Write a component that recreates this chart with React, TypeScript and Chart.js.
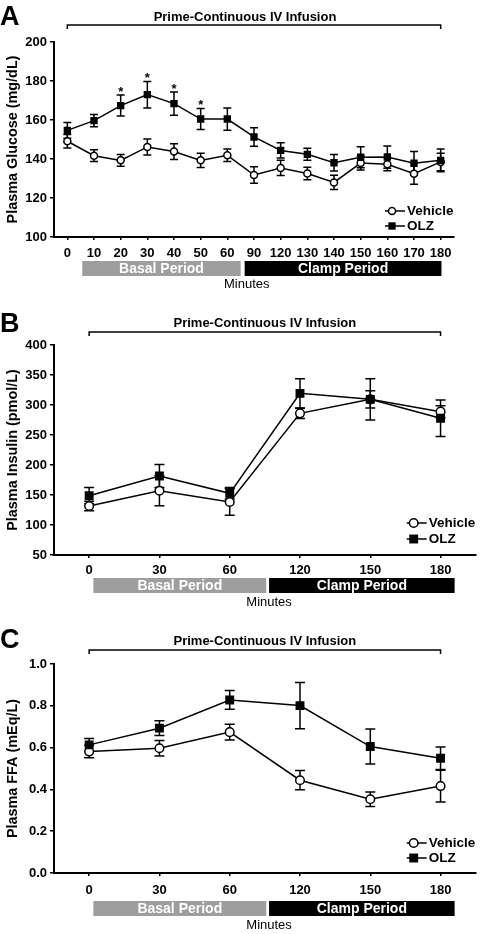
import React, { useEffect, useRef } from 'react';
import { Chart, registerables } from 'chart.js';

Chart.register(...registerables);

const FONT = '"Liberation Sans", Arial, Helvetica, sans-serif';

// ---------- Data ----------
const glucoseMinutes = ['0', '10', '20', '30', '40', '50', '60', '90', '120', '130', '140', '150', '160', '170', '180'];
const glucoseVehicle = [149.1, 141.7, 139.3, 146.2, 143.8, 139.3, 141.9, 131.8, 135.4, 132.6, 128.0, 137.9, 137.3, 132.5, 138.5];
const glucoseVehicleSem = [3.5, 3.0, 3.0, 4.1, 4.0, 3.6, 3.2, 4.2, 3.9, 3.2, 3.7, 3.6, 3.3, 5.5, 4.5];
const glucoseOlz = [154.7, 159.7, 167.4, 173.0, 168.4, 160.5, 160.5, 151.3, 144.4, 142.4, 138.1, 140.9, 141.0, 137.8, 139.3];
const glucoseOlzSem = [4.0, 3.1, 5.4, 6.8, 5.9, 5.4, 5.7, 4.7, 3.9, 3.1, 4.2, 5.4, 5.7, 6.1, 5.8];
const glucoseSignificant = ['20', '30', '40', '50'];

const clampMinutes = ['0', '30', '60', '120', '150', '180'];
const insulinVehicle = [131.7, 157.2, 138.3, 286.1, 309.4, 288.9];
const insulinVehicleSem = [8.0, 25.0, 22.0, 8.5, 14.5, 10.0];
const insulinOlz = [148.9, 181.7, 152.8, 319.4, 309.4, 277.8];
const insulinOlzSem = [13.5, 19.0, 9.5, 24.5, 34.5, 30.5];

const ffaVehicle = [0.581, 0.597, 0.674, 0.444, 0.353, 0.416];
const ffaVehicleSem = [0.030, 0.037, 0.038, 0.046, 0.035, 0.076];
const ffaOlz = [0.613, 0.693, 0.828, 0.801, 0.605, 0.549];
const ffaOlzSem = [0.030, 0.035, 0.045, 0.111, 0.084, 0.054];

const seriesNames = ['Vehicle', 'OLZ'];
const periodNames = ['Basal Period', 'Clamp Period'];
const bracketTitle = 'Prime-Continuous IV Infusion';
const xTitle = 'Minutes';

// ---------- Panel layout specs ----------
type Spec = {
  letter: string;
  yTitle: string;
  labels: string[];
  vehicle: number[];
  vehicleSem: number[];
  olz: number[];
  olzSem: number[];
  stars: string[];
  yMin: number;
  yMax: number;
  yStep: number;
  decimals: number;
  canvasTop: number;
  height: number;
  padTop: number;
  padRight: number;
  xAxisH: number;
  xTickPad: number;
  bracketY: number;
  bracketTextY: number;
  bracketTextDx: number;
  letterBase: number;
  periodSpans: number[][];
  periodTop: number;
  periodBottom: number;
  minutesAt: number;
  minutesY: number;
  legendRows: number[];
  circleR: number;
  rectR: number;
  capW: number;
};

const specs: Spec[] = [
  {
    letter: 'A', yTitle: 'Plasma Glucose (mg/dL)', labels: glucoseMinutes,
    vehicle: glucoseVehicle, vehicleSem: glucoseVehicleSem, olz: glucoseOlz, olzSem: glucoseOlzSem,
    stars: glucoseSignificant, yMin: 100, yMax: 200, yStep: 20, decimals: 0,
    canvasTop: 0, height: 300, padTop: 42, padRight: 28, xAxisH: 63, xTickPad: 6,
    bracketY: 25, bracketTextY: 17, bracketTextDx: -9, letterBase: 25,
    periodSpans: [[0.56, 6.5], [6.65, 14.03]], periodTop: 24, periodBottom: 39,
    minutesAt: 6.73, minutesY: 47, legendRows: [-26, -11],
    circleR: 3.5, rectR: 5.2, capW: 8,
  },
  {
    letter: 'B', yTitle: 'Plasma Insulin (pmol/L)', labels: clampMinutes,
    vehicle: insulinVehicle, vehicleSem: insulinVehicleSem, olz: insulinOlz, olzSem: insulinOlzSem,
    stars: [], yMin: 50, yMax: 400, yStep: 50, decimals: 0,
    canvasTop: 300, height: 315, padTop: 45, padRight: 2, xAxisH: 60, xTickPad: 5,
    bracketY: 32, bracketTextY: 23, bracketTextDx: 0, letterBase: 32,
    periodSpans: [[0.06, 2.52], [2.56, 5.2]], periodTop: 23, periodBottom: 38,
    minutesAt: 2.56, minutesY: 47, legendRows: [-32, -16],
    circleR: 4.3, rectR: 6.3, capW: 10,
  },
  {
    letter: 'C', yTitle: 'Plasma FFA (mEq/L)', labels: clampMinutes,
    vehicle: ffaVehicle, vehicleSem: ffaVehicleSem, olz: ffaOlz, olzSem: ffaOlzSem,
    stars: [], yMin: 0, yMax: 1.0, yStep: 0.2, decimals: 1,
    canvasTop: 615, height: 319, padTop: 49, padRight: 2, xAxisH: 61, xTickPad: 7,
    bracketY: 35, bracketTextY: 26, bracketTextDx: 0, letterBase: 33,
    periodSpans: [[0.06, 2.52], [2.56, 5.2]], periodTop: 28, periodBottom: 43,
    minutesAt: 2.56, minutesY: 52, legendRows: [-30, -15],
    circleR: 4.3, rectR: 6.3, capW: 10,
  },
];

const periodColors = ['#9e9e9e', '#000000'];

function drawMarker(ctx: CanvasRenderingContext2D, kind: string, x: number, y: number, s: Spec) {
  ctx.save();
  ctx.lineWidth = 1.5;
  ctx.strokeStyle = '#000';
  if (kind === 'circle') {
    ctx.fillStyle = '#fff';
    ctx.beginPath();
    ctx.arc(x, y, s.circleR, 0, Math.PI * 2);
    ctx.fill();
    ctx.stroke();
  } else {
    const h = s.rectR * Math.SQRT1_2;
    ctx.fillStyle = '#000';
    ctx.fillRect(x - h, y - h, 2 * h, 2 * h);
  }
  ctx.restore();
}

function decor(s: Spec) {
  return {
    id: 'decor' + s.letter,
    beforeDatasetsDraw(chart: any) {
      const { ctx } = chart;
      const x = chart.scales.x;
      const y = chart.scales.y;
      ctx.save();
      ctx.strokeStyle = '#000';
      ctx.lineWidth = 1.5;
      const groups: [number[], number[]][] = [[s.vehicle, s.vehicleSem], [s.olz, s.olzSem]];
      groups.forEach(([m, e]) => {
        m.forEach((v, i) => {
          const px = x.getPixelForValue(i);
          const t = y.getPixelForValue(v + e[i]);
          const b = y.getPixelForValue(v - e[i]);
          const hw = s.capW / 2;
          ctx.beginPath();
          ctx.moveTo(px, t);
          ctx.lineTo(px, b);
          ctx.moveTo(px - hw, t);
          ctx.lineTo(px + hw, t);
          ctx.moveTo(px - hw, b);
          ctx.lineTo(px + hw, b);
          ctx.stroke();
        });
      });
      ctx.restore();
    },
    afterDraw(chart: any) {
      const { ctx, chartArea } = chart;
      const x = chart.scales.x;
      const y = chart.scales.y;
      const n = s.labels.length;
      ctx.save();
      // panel letter
      ctx.fillStyle = '#000';
      ctx.font = `bold 27px ${FONT}`;
      ctx.textAlign = 'left';
      ctx.textBaseline = 'alphabetic';
      ctx.fillText(s.letter, 0, s.letterBase);

      // bracket
      const bx0 = x.getPixelForValue(0);
      const bx1 = x.getPixelForValue(n - 1);
      ctx.strokeStyle = '#000';
      ctx.lineWidth = 1.5;
      ctx.beginPath();
      ctx.moveTo(bx0, s.bracketY + 4);
      ctx.lineTo(bx0, s.bracketY);
      ctx.lineTo(bx1, s.bracketY);
      ctx.lineTo(bx1, s.bracketY + 4);
      ctx.stroke();
      ctx.font = `bold 13px ${FONT}`;
      ctx.textAlign = 'center';
      ctx.textBaseline = 'middle';
      ctx.fillText(bracketTitle, (bx0 + bx1) / 2 + s.bracketTextDx, s.bracketTextY + 0.5);

      // asterisks
      s.stars.forEach((lab) => {
        const i = s.labels.indexOf(lab);
        if (i < 0) return;
        const px = x.getPixelForValue(i);
        const top = y.getPixelForValue(s.olz[i] + s.olzSem[i]);
        ctx.font = `bold 13px ${FONT}`;
        ctx.textAlign = 'center';
        ctx.textBaseline = 'alphabetic';
        ctx.fillText('*', px, top + 1);
      });

      // period bars
      const bottom = chartArea.bottom;
      s.periodSpans.forEach((sp, k) => {
        const p0 = x.getPixelForValue(sp[0]);
        const p1 = x.getPixelForValue(sp[1]);
        ctx.fillStyle = periodColors[k];
        ctx.fillRect(p0, bottom + s.periodTop, p1 - p0, s.periodBottom - s.periodTop);
        ctx.fillStyle = '#fff';
        ctx.font = `bold 14px ${FONT}`;
        ctx.textAlign = 'center';
        ctx.textBaseline = 'middle';
        ctx.fillText(periodNames[k], (p0 + p1) / 2, bottom + (s.periodTop + s.periodBottom) / 2 + 0.5);
      });

      // x title
      ctx.fillStyle = '#000';
      ctx.font = `13px ${FONT}`;
      ctx.textAlign = 'center';
      ctx.textBaseline = 'middle';
      ctx.fillText(xTitle, x.getPixelForValue(s.minutesAt), bottom + s.minutesY);

      // legend
      const textX = chartArea.right - 47;
      const kinds = ['circle', 'rect'];
      seriesNames.forEach((name, k) => {
        const ly = bottom + s.legendRows[k];
        ctx.strokeStyle = '#000';
        ctx.lineWidth = 1.5;
        ctx.beginPath();
        ctx.moveTo(textX - 22, ly);
        ctx.lineTo(textX - 2, ly);
        ctx.stroke();
        drawMarker(ctx, kinds[k], textX - 15, ly, s);
        ctx.fillStyle = '#000';
        ctx.font = `bold 13.5px ${FONT}`;
        ctx.textAlign = 'left';
        ctx.textBaseline = 'middle';
        ctx.fillText(name, textX, ly);
      });
      ctx.restore();
    },
  };
}

function Panel({ spec }: { spec: Spec }) {
  const ref = useRef<HTMLCanvasElement | null>(null);
  useEffect(() => {
    if (!ref.current) return;
    const s = spec;
    const tickFont = { family: FONT, size: 13, weight: 'bold' as const };
    const titleFont = { family: FONT, size: 14.4, weight: 'bold' as const };
    const chart = new Chart(ref.current, {
      type: 'line',
      data: {
        labels: s.labels,
        datasets: [
          {
            label: seriesNames[0],
            data: s.vehicle,
            borderColor: '#000',
            borderWidth: 1.5,
            backgroundColor: '#fff',
            pointStyle: 'circle',
            pointRadius: s.circleR,
            pointBorderWidth: 1.5,
            pointBackgroundColor: '#fff',
            pointBorderColor: '#000',
            tension: 0,
            fill: false,
            order: 1,
          },
          {
            label: seriesNames[1],
            data: s.olz,
            borderColor: '#000',
            borderWidth: 1.5,
            backgroundColor: '#000',
            pointStyle: 'rect',
            pointRadius: s.rectR,
            pointBorderWidth: 0,
            pointBackgroundColor: '#000',
            pointBorderColor: '#000',
            tension: 0,
            fill: false,
            order: 0,
          },
        ],
      },
      options: {
        animation: false,
        responsive: false,
        maintainAspectRatio: false,
        devicePixelRatio: 1,
        events: [],
        layout: { padding: { left: 0, top: s.padTop, right: s.padRight, bottom: 0 } },
        plugins: {
          legend: { display: false },
          tooltip: { enabled: false },
          title: { display: false },
        },
        scales: {
          x: {
            type: 'category',
            offset: true,
            grid: {
              display: true,
              drawOnChartArea: false,
              drawTicks: true,
              tickLength: 3,
              offset: false,
              color: '#000',
              lineWidth: 1.5,
            },
            border: { display: true, color: '#000', width: 2 },
            ticks: {
              autoSkip: false,
              maxRotation: 0,
              minRotation: 0,
              padding: s.xTickPad,
              color: '#000',
              font: tickFont,
            },
            afterFit: (sc: any) => {
              sc.height = s.xAxisH;
            },
          },
          y: {
            type: 'linear',
            min: s.yMin,
            max: s.yMax,
            grid: {
              display: true,
              drawOnChartArea: false,
              drawTicks: true,
              tickLength: 4,
              color: '#000',
              lineWidth: 1.5,
            },
            border: { display: true, color: '#000', width: 2 },
            ticks: {
              stepSize: s.yStep,
              padding: 3,
              color: '#000',
              font: tickFont,
              callback: (v: any) => Number(v).toFixed(s.decimals),
            },
            title: {
              display: true,
              text: s.yTitle,
              color: '#000',
              font: titleFont,
              padding: { top: 4, bottom: 0 },
            },
            afterFit: (sc: any) => {
              sc.width = 54;
            },
          },
        },
      },
      plugins: [decor(s)],
    } as any);
    return () => chart.destroy();
  }, [spec]);
  return (
    <canvas
      ref={ref}
      width={482}
      height={spec.height}
      style={{ position: 'absolute', left: 0, top: spec.canvasTop, width: 482, height: spec.height }}
    />
  );
}

export default function App() {
  return (
    <div style={{ position: 'absolute', left: 0, top: 0, width: 482, height: 934, background: '#fff', overflow: 'hidden' }}>
      {specs.map((s) => (
        <Panel key={s.letter} spec={s} />
      ))}
    </div>
  );
}
